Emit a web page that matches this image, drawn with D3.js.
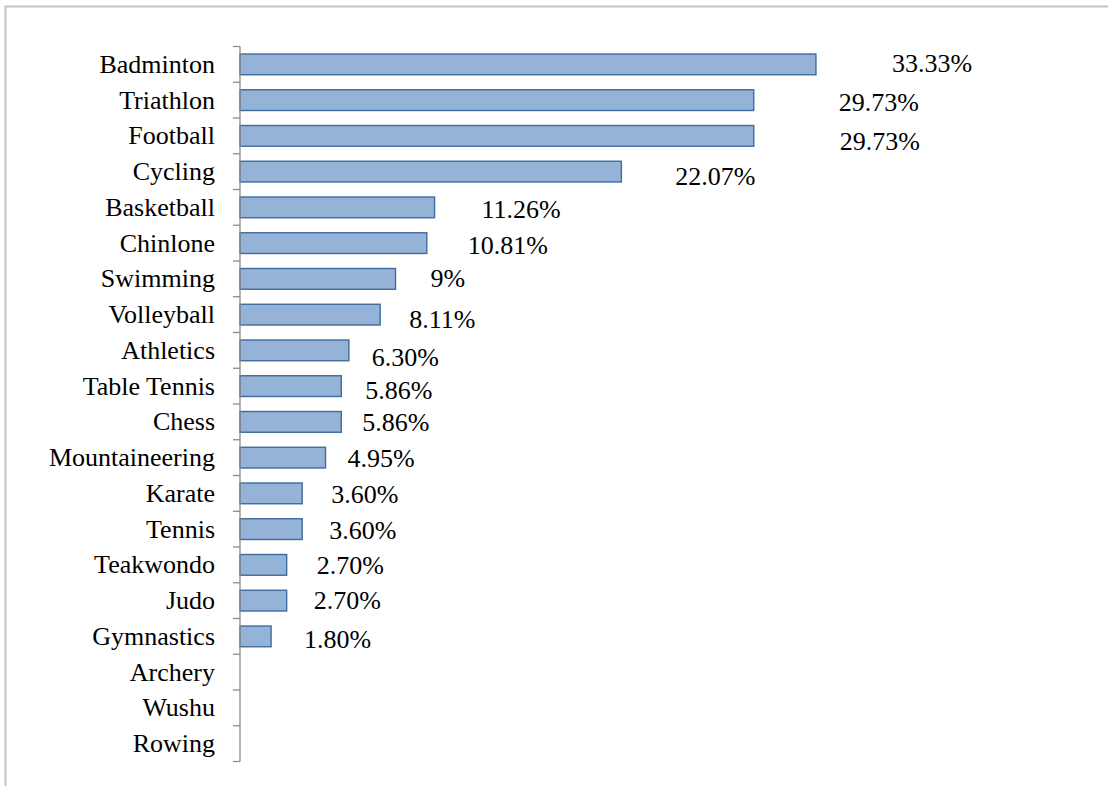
<!DOCTYPE html>
<html>
<head>
<meta charset="utf-8">
<script src="https://cdn.jsdelivr.net/npm/d3@7/dist/d3.min.js"></script>
<style>
  html, body { margin: 0; padding: 0; background: #ffffff; }
  svg { display: block; }
  text { font-family: "Liberation Serif", "Times New Roman", Times, serif; fill: #000; }
</style>
</head>
<body>
<svg id="chart" width="1108" height="786"></svg>
<script>
// Sports and the share of respondents practising each (%)
const sports = ["Badminton", "Triathlon", "Football", "Cycling", "Basketball", "Chinlone",
  "Swimming", "Volleyball", "Athletics", "Table Tennis", "Chess", "Mountaineering",
  "Karate", "Tennis", "Teakwondo", "Judo", "Gymnastics", "Archery", "Wushu", "Rowing"];
const shares = [33.33, 29.73, 29.73, 22.07, 11.26, 10.81, 9, 8.11, 6.30, 5.86, 5.86, 4.95,
  3.60, 3.60, 2.70, 2.70, 1.80, 0, 0, 0];
const shareLabels = ["33.33%", "29.73%", "29.73%", "22.07%", "11.26%", "10.81%", "9%", "8.11%",
  "6.30%", "5.86%", "5.86%", "4.95%", "3.60%", "3.60%", "2.70%", "2.70%", "1.80%", "", "", ""];

// Hand-placed offsets of each value label from the end of its bar (layout only)
const labelNudge = [[76, -1], [85, 2], [86, 6], [54, 5], [47, 2], [41, 2], [35, 0], [29, 5],
  [23, 7], [24, 4], [21, 1], [22, 1], [29, 1], [27, 1], [30, 1], [27, 0], [33, 3], [0, 0], [0, 0], [0, 0]];

const svg = d3.select("#chart");
const fontSize = 26;

// Outer chart frame
svg.append("rect")
  .attr("x", 5.5).attr("y", 6.5)
  .attr("width", 1110).attr("height", 800)
  .attr("fill", "none").attr("stroke", "#c4c4c4").attr("stroke-width", 2);

const x0 = 240;
const x = d3.scaleLinear().domain([0, 35]).range([x0, x0 + 17.28 * 35]);
const y = d3.scaleBand().domain(sports).range([46.5, 761.5]).paddingInner(0.42).paddingOuter(0.21);

const step = y.step();
const axisTop = y.range()[0];

// Bars
svg.append("g").selectAll("rect")
  .data(sports.map((s, i) => ({ s, v: shares[i], i })).filter(d => d.v > 0))
  .join("rect")
  .attr("x", x(0))
  .attr("y", d => y(d.s))
  .attr("width", d => x(d.v) - x(0))
  .attr("height", y.bandwidth())
  .attr("fill", "#95b3d7")
  .attr("stroke", "#3f6c9e")
  .attr("stroke-width", 1.4);

// Category axis: line plus tick marks at band boundaries
const axis = svg.append("g").attr("stroke", "#8c8c8c").attr("stroke-width", 1.3);
axis.append("line")
  .attr("x1", x0).attr("x2", x0)
  .attr("y1", axisTop).attr("y2", axisTop + step * sports.length);
axis.selectAll("line.tick")
  .data(d3.range(sports.length + 1))
  .join("line").attr("class", "tick")
  .attr("x1", x0 - 7).attr("x2", x0)
  .attr("y1", i => axisTop + i * step).attr("y2", i => axisTop + i * step);

// Category labels
svg.append("g").selectAll("text")
  .data(sports)
  .join("text")
  .attr("x", 215)
  .attr("y", d => y(d) + y.bandwidth() / 2)
  .attr("dy", "0.33em")
  .attr("text-anchor", "end")
  .attr("font-size", fontSize)
  .text(d => d);

// Value labels
svg.append("g").selectAll("text")
  .data(sports.map((s, i) => ({ s, v: shares[i], t: shareLabels[i], n: labelNudge[i] })).filter(d => d.t))
  .join("text")
  .attr("x", d => x(d.v) + d.n[0])
  .attr("y", d => y(d.s) + y.bandwidth() / 2 + d.n[1])
  .attr("dy", "0.33em")
  .attr("font-size", fontSize)
  .text(d => d.t);
</script>
</body>
</html>
